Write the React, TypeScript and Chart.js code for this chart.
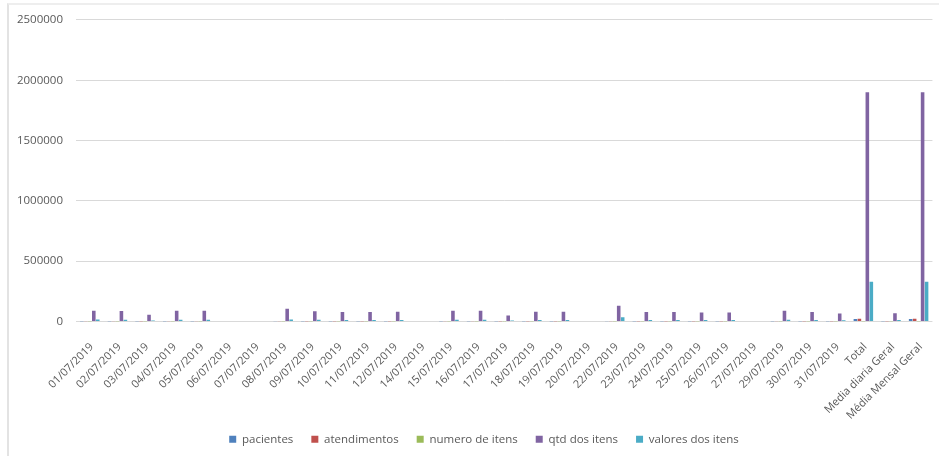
import React, { useEffect, useRef } from "react";
import { Chart, registerables } from "chart.js";

Chart.register(...registerables);

// Category labels: July 2019 working dates plus the summary columns
const categories: string[] = [
  "01/07/2019", "02/07/2019", "03/07/2019", "04/07/2019", "05/07/2019", "06/07/2019",
  "07/07/2019", "08/07/2019", "09/07/2019", "10/07/2019", "11/07/2019", "12/07/2019",
  "14/07/2019", "15/07/2019", "16/07/2019", "17/07/2019", "18/07/2019", "19/07/2019",
  "20/07/2019", "22/07/2019", "23/07/2019", "24/07/2019", "25/07/2019", "26/07/2019",
  "27/07/2019", "29/07/2019", "30/07/2019", "31/07/2019",
  "Total", "Media diaria Geral", "Média Mensal Geral",
];

const pacientes: number[] = [
  980, 950, 610, 970, 960, 0, 0, 1120, 920, 860, 870, 880, 0, 970, 980, 560,
  880, 890, 0, 1400, 860, 860, 830, 830, 0, 970, 860, 730,
  21000, 750, 21000,
];

const atendimentos: number[] = [
  1080, 1050, 670, 1070, 1060, 0, 0, 1230, 1010, 950, 960, 970, 0, 1070, 1080, 620,
  970, 980, 0, 1540, 950, 950, 910, 910, 0, 1070, 950, 800,
  22500, 800, 22500,
];

const numeroDeItens: number[] = [
  28, 27, 18, 28, 28, 0, 0, 32, 26, 25, 25, 25, 0, 28, 28, 16,
  25, 25, 0, 40, 25, 25, 24, 24, 0, 28, 25, 21,
  620, 22, 620,
];

const qtdDosItens: number[] = [
  90000, 86000, 55000, 90000, 90000, 0, 0, 105000, 85000, 78000, 78000, 80000, 0, 90000, 90000, 50000,
  80000, 80000, 0, 130000, 78000, 78000, 75000, 75000, 0, 90000, 78000, 66000,
  1900000, 67900, 1900000,
];

const valoresDosItens: number[] = [
  16000, 15000, 9000, 15000, 15000, 0, 0, 17000, 14000, 13000, 13000, 13000, 0, 15000, 15000, 8000,
  13000, 13000, 0, 35000, 13000, 13000, 12000, 12000, 0, 15000, 13000, 11000,
  330000, 11800, 330000,
];

const yTicks: number[] = [0, 500000, 1000000, 1500000, 2000000, 2500000];

const seriesNames = ["pacientes", "atendimentos", "numero de itens", "qtd dos itens", "valores dos itens"];
const seriesColors = ["#4F81BD", "#C0504D", "#9BBB59", "#8064A2", "#4BACC6"];
const seriesValues = [pacientes, atendimentos, numeroDeItens, qtdDosItens, valoresDosItens];

const FONT = "'Open Sans', 'DejaVu Sans', sans-serif";
const TEXT = "#595959";

// Centres the bottom legend under the plot and lets the long rotated
// category labels run a little past the x-axis box without being clipped
const layoutTweaks = {
  id: "layoutTweaks",
  afterLayout(chart: any) {
    const lg = chart.legend;
    if (lg) {
      lg.left += 16;
      lg.right += 16;
    }
    const x = chart.scales.x;
    if (x) x.bottom += 12;
  },
};

export default function App() {
  const canvasRef = useRef<HTMLCanvasElement | null>(null);

  useEffect(() => {
    const canvas = canvasRef.current;
    if (!canvas) return;
    const chart = new Chart(canvas, {
      type: "bar",
      data: {
        labels: categories,
        datasets: seriesNames.map((name, i) => ({
          label: name,
          data: seriesValues[i],
          backgroundColor: seriesColors[i],
          borderWidth: 0,
          categoryPercentage: 0.72,
          barPercentage: 0.9,
        })),
      },
      options: {
        responsive: false,
        animation: false,
        layout: { padding: { top: 19, right: 3, bottom: 1, left: 0 } },
        plugins: {
          tooltip: { enabled: false },
          legend: {
            position: "bottom",
            labels: {
              boxWidth: 7,
              boxHeight: 7,
              padding: 18,
              color: TEXT,
              font: { family: FONT, size: 11.5 },
            },
          },
        },
        scales: {
          x: {
            grid: { display: false },
            border: { display: false },
            ticks: {
              color: TEXT,
              font: { family: FONT, size: 11 },
              minRotation: 45,
              maxRotation: 45,
              autoSkip: false,
              padding: 11,
              labelOffset: 2,
            },
            afterFit: (scale: any) => {
              scale.height = 94;
            },
          },
          y: {
            min: 0,
            max: yTicks[yTicks.length - 1],
            afterBuildTicks: (scale: any) => {
              scale.ticks = yTicks.map((v) => ({ value: v }));
            },
            grid: { color: "#d9d9d9", drawTicks: false, lineWidth: 1 },
            border: { display: false },
            ticks: {
              color: TEXT,
              font: { family: FONT, size: 11.5 },
              padding: 13,
              callback: (v: any) => String(v),
            },
            afterFit: (scale: any) => {
              scale.width = 76;
            },
          },
        },
      },
      plugins: [layoutTweaks],
    });
    return () => chart.destroy();
  }, []);

  return (
    <div style={{ position: "absolute", left: 0, top: 0, width: 939, height: 456, background: "#fff" }}>
      <div
        style={{
          position: "absolute",
          left: 7,
          top: 3,
          right: 0,
          bottom: 0,
          borderLeft: "2px solid #e3e3e3",
          borderTop: "2px solid #eeeeee",
        }}
      />
      <canvas
        ref={canvasRef}
        width={939}
        height={456}
        style={{ position: "absolute", left: 0, top: 0, width: 939, height: 456 }}
      />
    </div>
  );
}
